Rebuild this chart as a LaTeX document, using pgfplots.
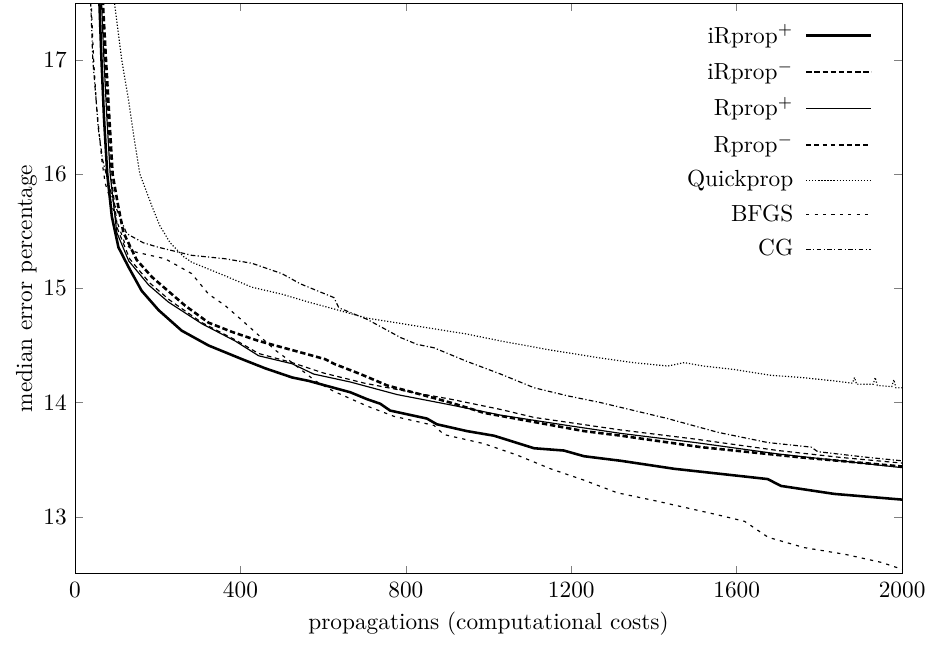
\documentclass[border=0pt]{standalone}
\usepackage{pgfplots}
\pgfplotsset{compat=1.18}

\begin{document}
\begin{tikzpicture}
\begin{axis}[
    scale only axis,
    width=355pt, height=245pt,
    xmin=0, xmax=2000,
    ymin=12.5, ymax=17.5,
    xtick={0,400,800,1200,1600,2000},
    ytick={13,14,15,16,17},
    /pgf/number format/1000 sep={},
    tick align=inside,
    major tick length=3.5pt,
    xlabel={propagations (computational costs)},
    ylabel={median error percentage},
    x label style={yshift=0.5pt},
    y label style={yshift=-4pt},
    legend cell align=right,
    legend plot pos=right,
    legend image code/.code={\path (0pt,0pt); \draw[#1] (3pt,0pt) -- (31pt,0pt);},
    legend style={draw=none, fill=none, at={(1,1)}, anchor=north east,
                  xshift=-9.4pt, yshift=-5pt, row sep=2.2pt},
    clip=true,
]
% iRprop+
\addplot[black, line width=1.1pt] coordinates {
(58,17.6) (64,17.0) (70,16.5) (78,16.0) (89,15.63) (105,15.36) (129,15.19)
(161,14.98) (202,14.81) (258,14.63) (323,14.50) (404,14.38) (460,14.30)
(525,14.22) (565,14.19) (605,14.15) (666,14.09) (706,14.03) (738,13.99)
(762,13.93) (851,13.86) (875,13.81) (948,13.75) (1013,13.71) (1110,13.60)
(1182,13.58) (1231,13.53) (1320,13.49) (1449,13.42) (1600,13.36) (1675,13.33)
(1707,13.27) (1836,13.20) (2000,13.15)
};
\addlegendentry{iRprop$^+$}
% iRprop-
\addplot[black, line width=1.1pt, dash pattern=on 2.3pt off 1.2pt] coordinates {
(66,17.6) (75,17.0) (83,16.5) (91,16.0) (103,15.75) (117,15.49) (149,15.25)
(186,15.10) (218,15.00) (266,14.85) (323,14.70) (379,14.62) (444,14.54)
(525,14.46) (605,14.38) (626,14.34) (690,14.25) (755,14.15) (827,14.08)
(908,14.00) (989,13.91) (1110,13.83) (1231,13.75) (1320,13.71) (1513,13.61)
(1755,13.52) (2000,13.44)
};
\addlegendentry{iRprop$^-$}
% Rprop+
\addplot[black, line width=0.5pt] coordinates {
(63,17.6) (70,17.0) (77,16.5) (85,16.0) (101,15.49) (130,15.24) (178,15.03)
(226,14.88) (307,14.69) (387,14.54) (444,14.41) (525,14.34) (577,14.25)
(666,14.18) (779,14.07) (908,13.98) (1029,13.89) (1190,13.80) (1320,13.73)
(1500,13.65) (1700,13.55) (1850,13.49) (2000,13.43)
};
\addlegendentry{Rprop$^+$}
% Rprop-
\addplot[black, line width=0.5pt, dash pattern=on 2pt off 1.5pt] coordinates {
(65,17.6) (72,17.0) (79,16.5) (87,16.0) (103,15.52) (132,15.26) (180,15.05)
(228,14.90) (307,14.70) (387,14.55) (444,14.43) (525,14.35) (600,14.26)
(700,14.17) (800,14.10) (908,14.03) (1029,13.94) (1110,13.87) (1320,13.76)
(1500,13.68) (1700,13.58) (1850,13.52) (2000,13.47)
};
\addlegendentry{Rprop$^-$}
% Quickprop
\addplot[black, line width=0.5pt, dash pattern=on 0.5pt off 0.8pt] coordinates {
(92,17.6) (113,17.0) (129,16.66) (143,16.31) (157,16.0) (186,15.72) (205,15.55)
(230,15.40) (262,15.28) (282,15.23) (363,15.11) (428,15.01) (500,14.95)
(565,14.88) (626,14.82) (706,14.74) (827,14.67) (948,14.60) (1029,14.54)
(1150,14.46) (1271,14.39) (1350,14.35) (1433,14.32) (1473,14.35) (1520,14.32)
(1594,14.29) (1680,14.24) (1755,14.22) (1836,14.19) (1880,14.17) (1885,14.22)
(1890,14.16) (1930,14.16) (1935,14.22) (1940,14.15) (1975,14.14) (1980,14.20)
(1985,14.13) (2000,14.13)
};
\addlegendentry{Quickprop}
% BFGS
\addplot[black, line width=0.5pt, dash pattern=on 1.4pt off 2.2pt] coordinates {
(38,17.6) (45,17.0) (52,16.6) (60,16.3) (65,16.12) (73,15.92) (81,15.83)
(100,15.6) (121,15.39) (145,15.32) (218,15.26) (282,15.13) (323,14.95)
(363,14.85) (404,14.72) (444,14.59) (484,14.46) (525,14.35) (581,14.19)
(625,14.10) (706,13.97) (771,13.88) (868,13.80) (892,13.72) (989,13.64)
(1069,13.54) (1150,13.42) (1231,13.32) (1311,13.21) (1403,13.14) (1550,13.02)
(1619,12.96) (1676,12.82) (1763,12.73) (1863,12.67) (1950,12.60) (2000,12.54)
};
\addlegendentry{BFGS}
% CG
\addplot[black, line width=0.5pt, dash pattern=on 2pt off 1pt on 0.5pt off 1pt] coordinates {
(37,17.6) (43,17.0) (51,16.65) (56,16.41) (67,16.12) (92,15.77) (125,15.48)
(165,15.40) (202,15.36) (282,15.29) (363,15.26) (428,15.22) (500,15.13)
(545,15.04) (626,14.92) (638,14.83) (706,14.73) (787,14.57) (827,14.51)
(868,14.48) (948,14.36) (1029,14.25) (1110,14.13) (1190,14.06) (1271,14.00)
(1433,13.86) (1554,13.74) (1675,13.65) (1780,13.61) (1796,13.57) (1917,13.52)
(2000,13.49)
};
\addlegendentry{CG}
\end{axis}
\pgfresetboundingbox
\path[use as bounding box] ([shift={(-32.2pt,-33.5pt)}]current axis.south west)
  rectangle ([shift={(12.4pt,1.3pt)}]current axis.north east);
\end{tikzpicture}
\end{document}
